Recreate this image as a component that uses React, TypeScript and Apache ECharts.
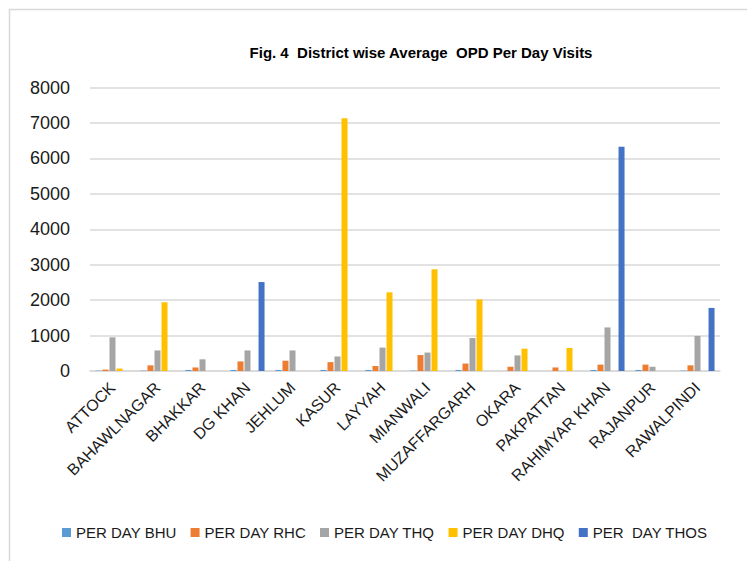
import React, { useEffect, useRef } from "react";
import * as echarts from "echarts";

const categories = [
  "ATTOCK",
  "BAHAWLNAGAR",
  "BHAKKAR",
  "DG KHAN",
  "JEHLUM",
  "KASUR",
  "LAYYAH",
  "MIANWALI",
  "MUZAFFARGARH",
  "OKARA",
  "PAKPATTAN",
  "RAHIMYAR KHAN",
  "RAJANPUR",
  "RAWALPINDI",
];

const seriesNames = [
  "PER DAY BHU",
  "PER DAY RHC",
  "PER DAY THQ",
  "PER DAY DHQ",
  "PER\u00a0\u00a0DAY THOS",
];

const bhu = [10, 10, 30, 30, 30, 30, 30, 10, 30, null, null, 30, 30, 10];
const rhc = [40, 160, 100, 270, 290, 250, 140, 450, 210, 120, 100, 180, 180, 160];
const thq = [950, 580, 330, 580, 580, 410, 660, 520, 930, 440, null, 1230, 120, 990];
const dhq = [70, 1940, null, null, null, 7130, 2220, 2870, 2020, 630, 650, null, null, null];
const thos = [null, null, null, 2510, null, null, null, null, null, null, null, 6330, null, 1780];

const colors = ["#5B9BD5", "#ED7D31", "#A5A5A5", "#FFC000", "#4472C4"];

const yMin = 0;
const yMax = 8000;
const yInterval = 1000;

const NARROW = "'Liberation Sans Narrow', 'Liberation Sans', Arial, sans-serif";
const FONT = "'Liberation Sans', Arial, sans-serif";

export default function App() {
  const ref = useRef<HTMLDivElement>(null);

  useEffect(() => {
    document.body.style.margin = "0";
    if (!ref.current) return;
    const chart = echarts.init(ref.current, null, { renderer: "svg" });
    const allData = [bhu, rhc, thq, dhq, thos];
    chart.setOption({
      animation: false,
      color: colors,
      textStyle: { fontFamily: FONT },
      graphic: [
        {
          type: "rect",
          shape: { x: 9.5, y: 9.5, width: 800, height: 600 },
          style: { fill: "none", stroke: "#d9d9d9", lineWidth: 1.5 },
          silent: true,
        },
        {
          type: "text",
          x: 421,
          y: 52,
          style: {
            text: "Fig. 4  District wise Average  OPD Per Day Visits",
            fontFamily: NARROW,
            fontWeight: "bold",
            fontSize: 15,
            fill: "#000",
            align: "center",
            verticalAlign: "middle",
          },
        },
      ],
      legend: {
        left: 57,
        top: 520,
        itemWidth: 9,
        itemHeight: 9,
        itemGap: 14,
        icon: "rect",
        textStyle: { fontFamily: FONT, fontSize: 15, color: "#1a1a1a" },
        data: seriesNames,
      },
      grid: {
        left: 90,
        right: 27,
        top: 87.5,
        bottom: 561 - 371,
        containLabel: false,
      },
      xAxis: {
        type: "category",
        data: categories,
        axisLine: { lineStyle: { color: "#d9d9d9", width: 1.5 } },
        axisTick: { show: false },
        axisLabel: {
          interval: 0,
          rotate: 45,
          fontFamily: FONT,
          fontSize: 16,
          color: "#1a1a1a",
          margin: 14,
        },
      },
      yAxis: {
        type: "value",
        min: yMin,
        max: yMax,
        interval: yInterval,
        axisLine: { show: false },
        axisTick: { show: false },
        splitLine: { lineStyle: { color: "#d9d9d9", width: 1.5 } },
        axisLabel: {
          fontFamily: FONT,
          fontSize: 18,
          color: "#1a1a1a",
          margin: 20,
          formatter: (v: number) => String(v),
        },
      },
      series: seriesNames.map((name, i) => ({
        name,
        type: "bar",
        data: allData[i],
        barWidth: 6,
        barGap: "17%",
        itemStyle: { color: colors[i] },
      })),
    });
    return () => chart.dispose();
  }, []);

  return <div ref={ref} style={{ width: 747, height: 561 }} />;
}
